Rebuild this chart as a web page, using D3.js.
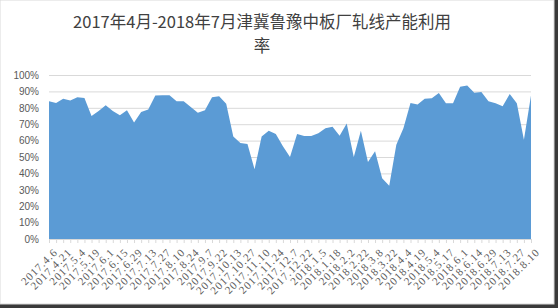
<!DOCTYPE html>
<html>
<head>
<meta charset="utf-8">
<script src="https://cdn.jsdelivr.net/npm/d3@7/dist/d3.min.js"></script>
<style>
  html, body { margin: 0; padding: 0; background: #3a3a3a; }
  svg { display: block; }
</style>
</head>
<body>
<svg id="chart"></svg>
<script>
'use strict';

var titleLines = ['2017年4月-2018年7月津冀鲁豫中板厂轧线产能利用', '率'];

// weekly dates, only every other one is labelled on the axis
var dates = [
  '2017.4.6', '2017.4.13', '2017.4.21', '2017.4.27', '2017.5.4', '2017.5.11',
  '2017.5.19', '2017.5.25', '2017.6.1', '2017.6.8', '2017.6.15', '2017.6.22',
  '2017.6.29', '2017.7.6', '2017.7.13', '2017.7.20', '2017.7.27', '2017.8.3',
  '2017.8.10', '2017.8.17', '2017.8.24', '2017.8.31', '2017.9.7', '2017.9.14',
  '2017.9.22', '2017.9.29', '2017.10.13', '2017.10.20', '2017.10.27', '2017.11.3',
  '2017.11.10', '2017.11.17', '2017.11.24', '2017.12.1', '2017.12.7', '2017.12.14',
  '2017.12.22', '2017.12.29', '2018.1.5', '2018.1.12', '2018.1.18', '2018.1.25',
  '2018.2.2', '2018.2.9', '2018.2.22', '2018.3.1', '2018.3.8', '2018.3.15',
  '2018.3.22', '2018.3.29', '2018.4.4', '2018.4.12', '2018.4.19', '2018.4.26',
  '2018.5.4', '2018.5.10', '2018.5.17', '2018.5.24', '2018.6.1', '2018.6.8',
  '2018.6.14', '2018.6.21', '2018.6.29', '2018.7.6', '2018.7.13', '2018.7.20',
  '2018.7.27', '2018.8.3', '2018.8.10'
];

// capacity utilisation, percent
var rates = [
  84, 83, 85.5, 84.5, 86.5, 86, 75, 78, 81.5, 78,
  75.5, 78.5, 71, 77.5, 79, 87.5, 87.6, 87.6, 84, 84,
  80.5, 77, 78.5, 86.5, 87, 82.5, 62.5, 58.5, 58, 42.5,
  62.5, 66, 64, 56.5, 50, 64, 62.8, 62.8, 64.5, 67.5,
  68.5, 63, 70.5, 50, 66, 47, 53.5, 37, 32.5, 57.5,
  67.5, 83, 82, 85.5, 85.8, 89, 82.7, 82.7, 92.9, 93.6,
  89.2, 89.6, 84, 82.7, 81, 88.4, 82.7, 60.5, 87.5
];

var yTicks = [0, 10, 20, 30, 40, 50, 60, 70, 80, 90, 100];

var width = 558,
  height = 308,
  frameW = 554,
  frameH = 304,
  plotLeft = 49,
  plotRight = 531,
  plotTop = 75,
  plotBottom = 239,
  areaColor = '#5b9bd5',
  gridColor = '#d9d9d9',
  textColor = '#595959';

var svg = d3.select('#chart').attr('width', width).attr('height', height);

svg.append('rect')
  .attr('x', 0).attr('y', 0)
  .attr('width', frameW).attr('height', frameH)
  .attr('fill', '#ffffff')
  .attr('stroke', gridColor);

var x = d3.scalePoint().domain(dates).range([plotLeft, plotRight]);
var y = d3.scaleLinear().domain([0, 100]).range([plotBottom, plotTop]);

// title
svg.append('g').selectAll('text').data(titleLines).enter().append('text')
  .attr('x', 262)
  .attr('y', function (d, i) { return 28 + i * 24; })
  .attr('text-anchor', 'middle')
  .style('font-family', '"Noto Sans CJK SC", "Noto Sans", sans-serif')
  .style('font-size', '16.5px')
  .attr('fill', '#404040')
  .text(function (d) { return d; });

// grid
svg.append('g')
  .attr('transform', 'translate(' + plotLeft + ',0)')
  .call(d3.axisLeft(y).tickValues(yTicks).tickSize(-(plotRight - plotLeft)).tickFormat(''))
  .call(function (g) {
    g.select('.domain').remove();
    g.selectAll('line').attr('stroke', gridColor);
  });

// area
var area = d3.area()
  .x(function (d, i) { return x(dates[i]); })
  .y0(y(0))
  .y1(function (d) { return y(d); });

svg.append('path')
  .datum(rates)
  .attr('d', area)
  .attr('fill', areaColor);

// y axis labels
svg.append('g')
  .attr('transform', 'translate(' + (plotLeft - 10) + ',0)')
  .call(d3.axisLeft(y).tickValues(yTicks).tickSize(0).tickPadding(0)
    .tickFormat(function (d) { return d + '%'; }))
  .call(function (g) {
    g.select('.domain').remove();
    g.selectAll('text')
      .attr('fill', textColor)
      .style('font-family', '"Liberation Sans", sans-serif')
      .style('font-size', '10px');
  });

// x axis
svg.append('g')
  .attr('transform', 'translate(0,' + plotBottom + ')')
  .call(d3.axisBottom(x).tickSize(4).tickSizeOuter(0)
    .tickFormat(function (d, i) { return i % 2 ? '' : d; }))
  .call(function (g) {
    g.select('.domain').attr('stroke', gridColor);
    g.selectAll('line').attr('stroke', gridColor);
    g.selectAll('text')
      .attr('fill', textColor)
      .attr('text-anchor', 'end')
      .attr('transform', 'translate(3,8) rotate(-45)')
      .attr('x', 0)
      .attr('y', 0)
      .attr('dy', '0.75em')
      .style('font-family', '"Liberation Serif", serif')
      .style('font-size', '11px')
      .style('letter-spacing', '1px');
  });
</script>
</body>
</html>
